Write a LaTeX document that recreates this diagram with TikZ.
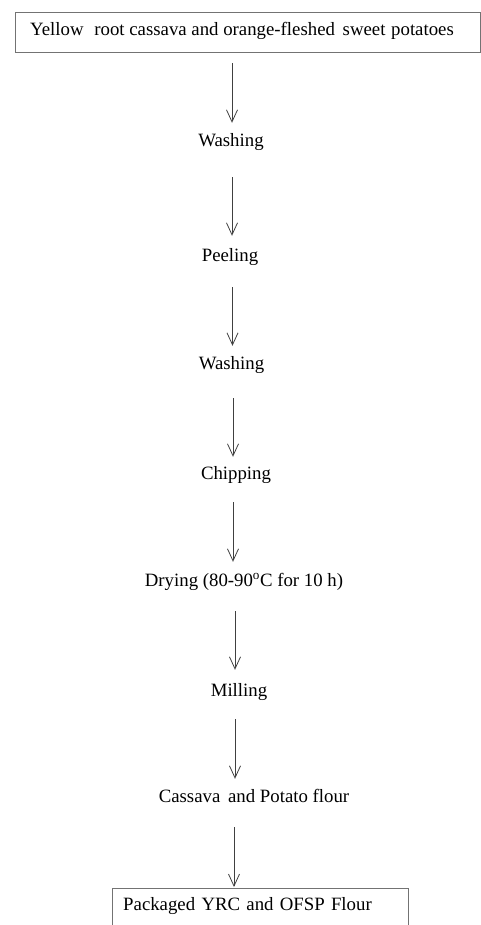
\documentclass[tikz,border=0pt]{standalone}
\usepackage{fontspec}
\setmainfont{Liberation Serif}
\usetikzlibrary{arrows.meta}
\begin{document}
\begin{tikzpicture}[x=1pt,y=-1pt,
  lbl/.style={font=\fontsize{18.8}{22}\selectfont, inner sep=0pt, text height=12pt, text depth=4pt},
  steplbl/.style={lbl, text height=14pt, text depth=2pt},
  boxline/.style={draw=black!55, line width=0.8pt},
  arr/.style={draw=black!75, line width=0.8pt, -{Straight Barb[length=12pt,width=11pt,line width=0.8pt]}}]
\useasboundingbox (0,0) rectangle (481,925);
% arrow x positions
\coordinate (a1) at (232,0);
\coordinate (a2) at (232,0);
\coordinate (a3) at (232.5,0);
\coordinate (a4) at (233,0);
\coordinate (a5) at (233,0);
\coordinate (a6) at (235,0);
\coordinate (a7) at (235,0);
\coordinate (a8) at (234,0);
% nodes
\node[boxline, minimum width=465pt, minimum height=40pt] (top) at (247.5,32) {};
\node[lbl, anchor=base west] (toptext) at (30,35.5)
  {Yellow\hspace{6pt} root cassava and orange-fleshed\hspace{3pt} sweet\hspace{1pt} potatoes};
\node[steplbl] (wash1) at (231,141) {Washing};
\node[steplbl] (peel) at (230,255) {Peeling};
\node[steplbl] (wash2) at (231.5,363) {Washing};
\node[steplbl] (chip) at (236,473) {Chipping};
\node[steplbl] (dry) at (244,580) {Drying (80-90\textsuperscript{o}C for 10 h)};
\node[steplbl] (mill) at (239,690) {Milling};
\node[steplbl] (flour) at (254,796) {Cassava\hspace{3pt} and Potato flour};
\node[lbl, anchor=north west, minimum width=296pt, text width=274pt, inner xsep=11pt, inner ysep=10pt, align=left] (pack) at (112,888)
  {Packaged YRC and OFSP Flour};
\draw[boxline] ([yshift=-37pt]pack.north west) -- (pack.north west) -- (pack.north east) -- ([yshift=-37pt]pack.north east);
% arrows
\draw[arr, shorten <=11pt, shorten >=10pt] (top.south -| a1) -- (wash1.north -| a1);
\draw[arr, shorten <=28pt, shorten >=11pt] (wash1.south -| a2) -- (peel.north -| a2);
\draw[arr, shorten <=24pt, shorten >=9pt] (peel.south -| a3) -- (wash2.north -| a3);
\draw[arr, shorten <=27pt, shorten >=8pt] (wash2.south -| a4) -- (chip.north -| a4);
\draw[arr, shorten <=21pt, shorten >=10pt] (chip.south -| a5) -- (dry.north -| a5);
\draw[arr, shorten <=23pt, shorten >=12pt] (dry.south -| a6) -- (mill.north -| a6);
\draw[arr, shorten <=21pt, shorten >=9pt] (mill.south -| a7) -- (flour.north -| a7);
\draw[arr, shorten <=23pt, shorten >=1pt] (flour.south -| a8) -- (pack.north -| a8);
\end{tikzpicture}
\end{document}
